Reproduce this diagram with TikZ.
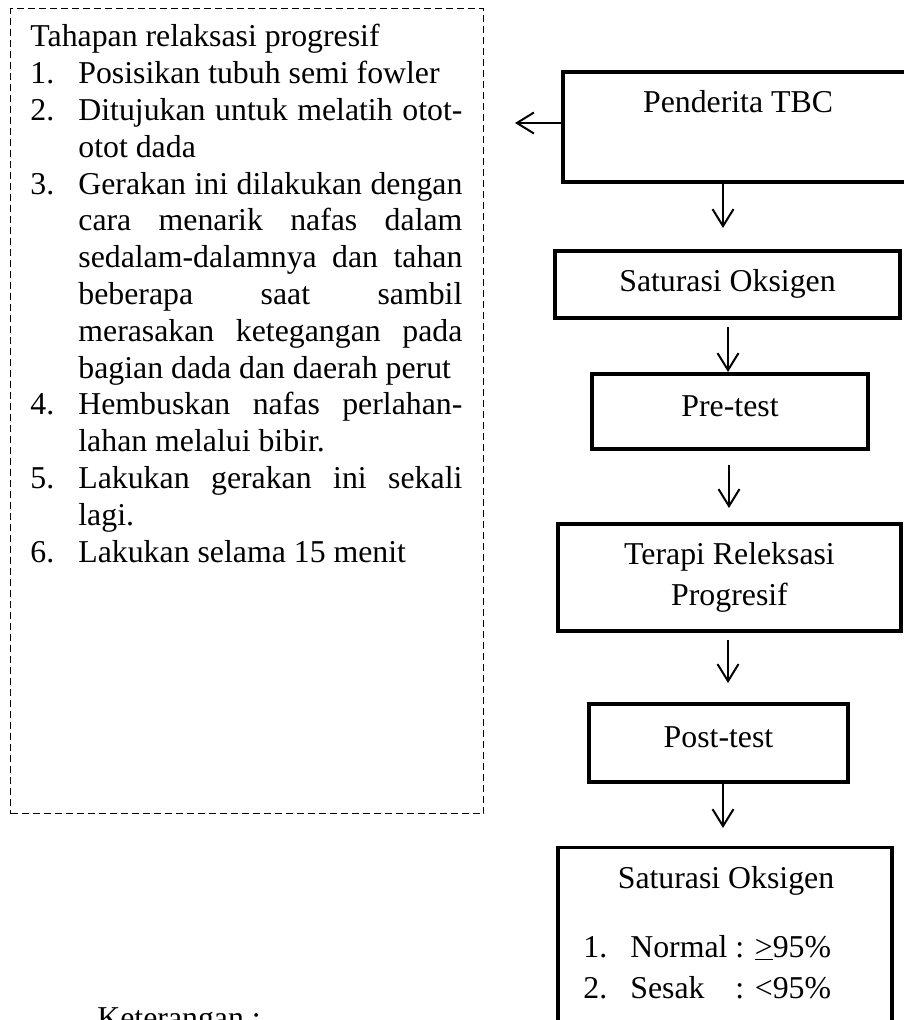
\documentclass[tikz,border=0pt]{standalone}
\usepackage{fontspec}
\setmainfont{Liberation Serif}
\usetikzlibrary{arrows.meta}
\newcommand{\lfont}{\fontsize{15.9}{18.4}\selectfont}
\begin{document}
\begin{tikzpicture}[x=0.5pt,y=-0.5pt,
  flowbox/.style={draw, line width=2pt, inner sep=0pt, font=\lfont},
  conn/.style={line width=1pt, -{Straight Barb[length=8.5pt,width=10.5pt]}},
  dashbox/.style={draw, line width=0.6pt, dash pattern=on 3.5pt off 2pt, inner sep=0pt},
  plain/.style={inner sep=0pt, font=\lfont}]
\useasboundingbox (0,0) rectangle (903,1020);

% left dashed box with the steps
\node[dashbox, anchor=north west, minimum width=236.5pt, minimum height=402.5pt] (tahapbox) at (10,8) {};
\node[plain, anchor=north west, align=left] (steps) at (30,20.74) {%
\strut Tahapan relaksasi progresif\\
\makebox[24pt][l]{1.}Posisikan tubuh semi fowler\\
\makebox[24pt][l]{2.}\makebox[192pt][s]{Ditujukan untuk melatih otot-}\\
\hspace*{24pt}otot dada\\
\makebox[24pt][l]{3.}\makebox[192pt][s]{Gerakan ini dilakukan dengan}\\
\hspace*{24pt}\makebox[192pt][s]{cara menarik nafas dalam}\\
\hspace*{24pt}\makebox[192pt][s]{sedalam-dalamnya dan tahan}\\
\hspace*{24pt}\makebox[192pt][s]{beberapa saat sambil}\\
\hspace*{24pt}\makebox[192pt][s]{merasakan ketegangan pada}\\
\hspace*{24pt}bagian dada dan daerah perut\\
\makebox[24pt][l]{4.}\makebox[192pt][s]{Hembuskan nafas perlahan-}\\
\hspace*{24pt}lahan melalui bibir.\\
\makebox[24pt][l]{5.}\makebox[192pt][s]{Lakukan gerakan ini sekali}\\
\hspace*{24pt}lagi.\\
\makebox[24pt][l]{6.}Lakukan selama 15 menit};

% flow boxes
\node[flowbox, minimum width=175pt, minimum height=55pt, text height=4pt, text depth=18pt] (pend) at (738,127) {Penderita TBC};
\node[flowbox, minimum width=172.5pt, minimum height=33.5pt, text height=11pt, text depth=3.5pt] (sat1) at (727.5,284.5) {Saturasi Oksigen};
\node[flowbox, minimum width=138pt, minimum height=37.5pt, text height=9pt, text depth=3.5pt] (pre) at (730,411.5) {Pre-test};
\node[flowbox, minimum width=171.5pt, minimum height=53.5pt, align=center, font=\fontsize{15.9}{20.5}\selectfont] (terapi) at (729.5,577.5) {Terapi Releksasi\\Progresif};
\node[flowbox, minimum width=129.5pt, minimum height=39pt, text height=7.5pt, text depth=3.5pt] (post) at (718.5,743) {Post-test};
\node[draw, line width=1.7pt, inner sep=0pt, anchor=north, minimum width=167pt, minimum height=100pt] (hasil) at (725,846) {};
\node[plain, anchor=base] (hasiltitle) at (726,888) {Saturasi Oksigen};
\node[plain, anchor=base west] (normal) at (583,957) {\makebox[23.5pt][l]{1.}\makebox[52.5pt][l]{Normal}: \underline{>}95\%};
\node[plain, anchor=base west] (sesak) at (583,998) {\makebox[23.5pt][l]{2.}\makebox[52.5pt][l]{Sesak}: <95\%};
\node[plain, anchor=base west] (ket) at (97,1028) {Keterangan :};

% connectors
\coordinate (leftend) at (515,123);
\coordinate (xa) at (723,0);
\coordinate (xb) at (728,0);
\coordinate (xc) at (729,0);
\draw[conn] (pend.west |- leftend) -- (leftend);
\draw[conn, shorten >=10.5pt] (pend.south -| xa) -- (sat1.north -| xa);
\draw[conn, shorten <=3.5pt] (sat1.south -| xb) -- (pre.north -| xb);
\draw[conn, shorten <=7pt, shorten >=7pt] (pre.south -| xc) -- (terapi.north -| xc);
\draw[conn, shorten <=3.5pt, shorten >=9.5pt] (terapi.south -| xb) -- (post.north -| xb);
\draw[conn, shorten >=9pt] (post.south -| xa) -- (hasil.north -| xa);
\end{tikzpicture}
\end{document}
